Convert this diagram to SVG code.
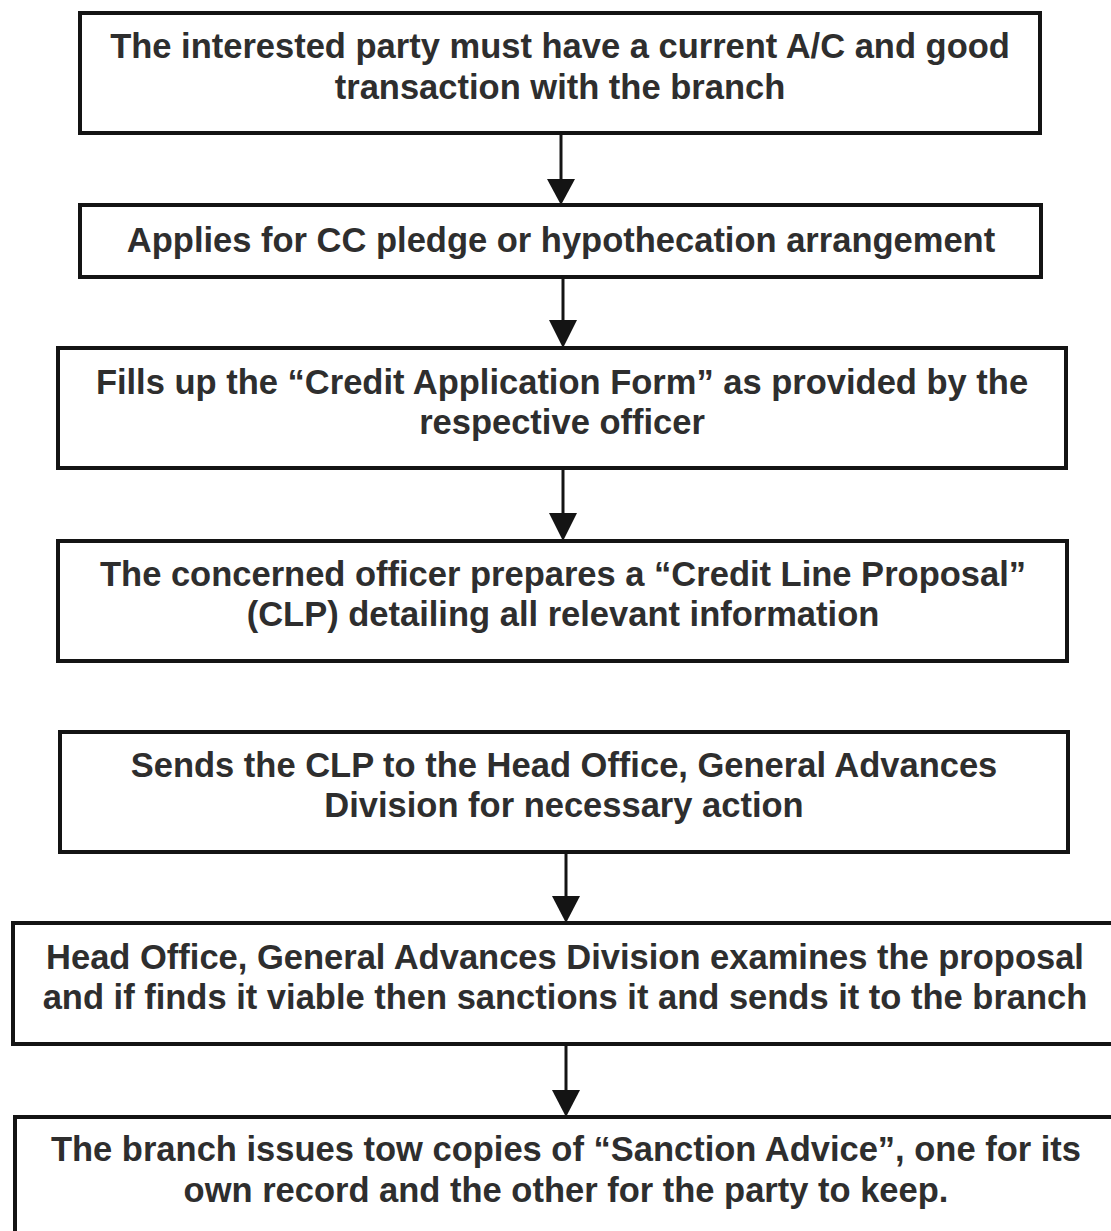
<svg xmlns="http://www.w3.org/2000/svg" width="1111" height="1231" viewBox="0 0 1111 1231">
  <style>
    .box { fill: #ffffff; stroke: #141414; stroke-width: 4; }
    .label { font-family: "Liberation Sans", Arial, Helvetica, sans-serif; font-weight: bold; font-size: 34.5px; fill: #2e2e2e; text-anchor: middle; }
    .link { stroke: #141414; stroke-width: 3; fill: none; }
    .head { fill: #141414; }
  </style>
  <rect width="1111" height="1231" fill="#ffffff"/>

  <!-- process steps -->
  <g id="step1">
    <rect class="box" x="80" y="13" width="960" height="120"/>
    <text class="label" x="560" y="58">The interested party must have a current A/C and good</text>
    <text class="label" x="560" y="99">transaction with the branch</text>
  </g>
  <g id="step2">
    <rect class="box" x="80" y="205" width="961" height="72"/>
    <text class="label" x="561" y="252">Applies for CC pledge or hypothecation arrangement</text>
  </g>
  <g id="step3">
    <rect class="box" x="58" y="348" width="1008" height="120"/>
    <text class="label" x="562" y="394">Fills up the “Credit Application Form” as provided by the</text>
    <text class="label" x="562" y="434">respective officer</text>
  </g>
  <g id="step4">
    <rect class="box" x="58" y="541" width="1009" height="120"/>
    <text class="label" x="563" y="586">The concerned officer prepares a “Credit Line Proposal”</text>
    <text class="label" x="563" y="626">(CLP) detailing all relevant information</text>
  </g>
  <g id="step5">
    <rect class="box" x="60" y="732" width="1008" height="120"/>
    <text class="label" x="564" y="777">Sends the CLP to the Head Office, General Advances</text>
    <text class="label" x="564" y="817">Division for necessary action</text>
  </g>
  <g id="step6">
    <rect class="box" x="13" y="923" width="1102" height="121"/>
    <text class="label" x="565" y="969">Head Office, General Advances Division examines the proposal</text>
    <text class="label" x="565" y="1009">and if finds it viable then sanctions it and sends it to the branch</text>
  </g>
  <g id="step7">
    <rect class="box" x="15" y="1117" width="1100" height="130"/>
    <text class="label" x="566" y="1161">The branch issues tow copies of “Sanction Advice”, one for its</text>
    <text class="label" x="566" y="1202">own record and the other for the party to keep.</text>
  </g>

  <!-- connectors -->
  <g id="connectors">
    <line class="link" x1="561" y1="133" x2="561" y2="182"/>
    <polygon class="head" points="547,179 575,179 561,205"/>
    <line class="link" x1="563" y1="277" x2="563" y2="322"/>
    <polygon class="head" points="549,320 577,320 563,348"/>
    <line class="link" x1="563" y1="468" x2="563" y2="516"/>
    <polygon class="head" points="549,513 577,513 563,541"/>
    <line class="link" x1="566" y1="852" x2="566" y2="898"/>
    <polygon class="head" points="552,896 580,896 566,923"/>
    <line class="link" x1="566" y1="1044" x2="566" y2="1092"/>
    <polygon class="head" points="552,1090 580,1090 566,1117"/>
  </g>
</svg>
